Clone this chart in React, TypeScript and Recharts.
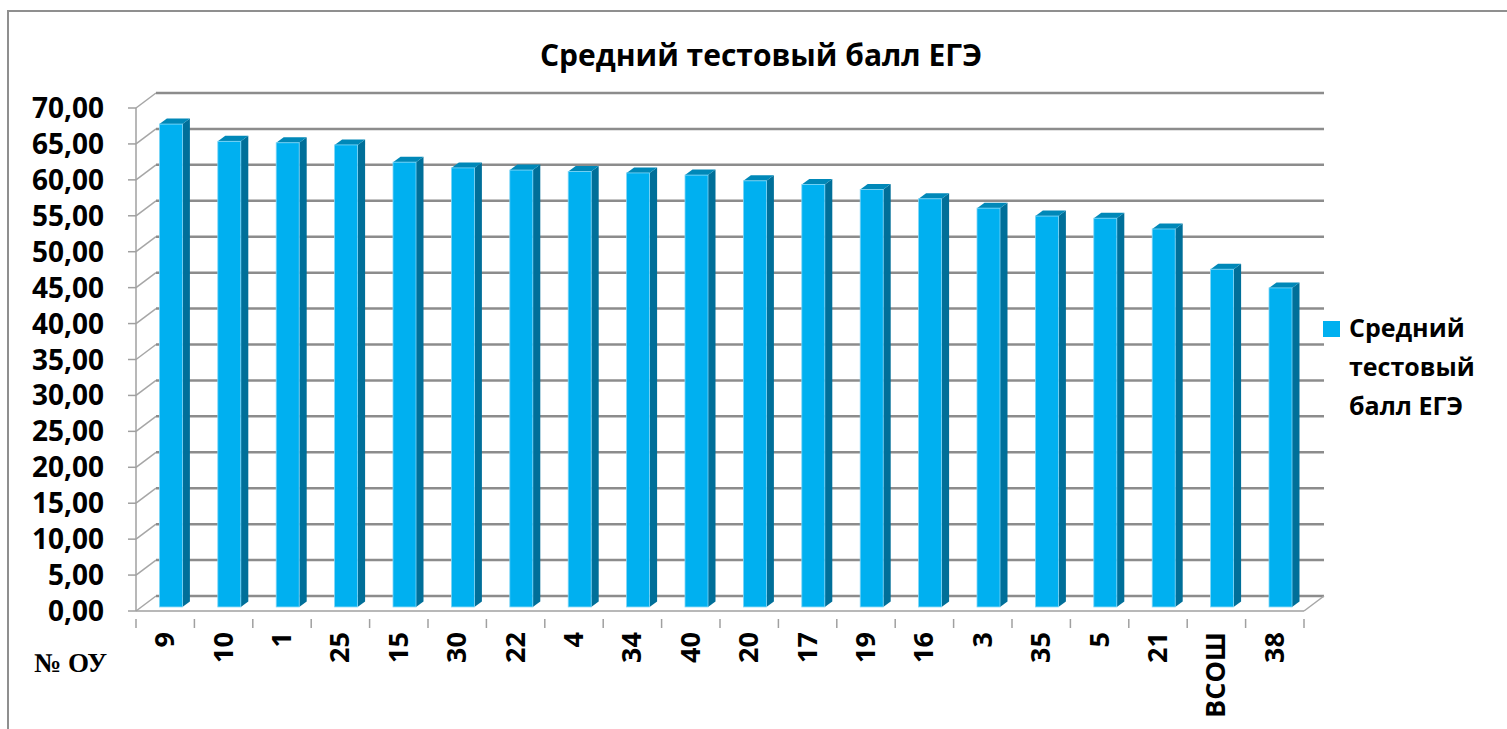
import { Bar, BarChart, CartesianGrid, XAxis, YAxis } from "recharts";

const categories = ["9", "10", "1", "25", "15", "30", "22", "4", "34", "40", "20", "17", "19", "16", "3", "35", "5", "21", "ВСОШ", "38"];
const scores = [67.2, 64.8, 64.6, 64.3, 61.9, 61.1, 60.8, 60.6, 60.4, 60.1, 59.3, 58.8, 58.1, 56.8, 55.5, 54.4, 54.1, 52.6, 47.0, 44.4];
const yTicks = [0, 5, 10, 15, 20, 25, 30, 35, 40, 45, 50, 55, 60, 65, 70];

const seriesName = "Средний тестовый балл ЕГЭ";

const data = categories.map((name, i) => ({ name, value: scores[i] }));

// 3d depth of the chart box
const DX = 20;
const DY = 15;
const PLOT_BOTTOM = 611;
const BAND = 1168 / categories.length;
const FONT = "'Open Sans', 'DejaVu Sans', sans-serif";

const fmt = (v: number) => v.toFixed(2).replace(".", ",");

const Bar3D = (props: any) => {
  const { x, y, width, height } = props;
  if (height == null || height <= 0) return null;
  const ox = DX * 0.27;
  const oy = DY * 0.27;
  const l = x + ox;
  const r = x + ox + width;
  const t = y - oy;
  const b = y + height - oy;
  const sx = 7.5;
  const sy = 5.5;
  return (
    <g>
      <polygon points={`${r},${t} ${r + sx},${t - sy} ${r + sx},${b - sy} ${r},${b}`} fill="#006f99" />
      <polygon points={`${l},${t} ${l + sx},${t - sy} ${r + sx},${t - sy} ${r},${t}`} fill="#0088b8" />
      <rect x={l} y={t} width={width} height={b - t} fill="#00b0f0" stroke="#7fd6f7" strokeWidth={0.8} />
    </g>
  );
};

const gridLine = (props: any) => {
  const { x1, y1, x2, index } = props;
  const isFloor = Math.abs(y1 - PLOT_BOTTOM) < 1.5;
  return (
    <g key={`grid-${index}-${y1}`}>
      <line x1={x1} y1={y1} x2={x1 + DX} y2={y1 - DY} stroke="#a6a6a6" strokeWidth={1.5} />
      <line x1={x1 + DX} y1={y1 - DY} x2={x2 + DX} y2={y1 - DY} stroke="#8c8c8c" strokeWidth={2.5} />
      {isFloor && <line x1={x2} y1={y1} x2={x2 + DX} y2={y1 - DY} stroke="#a6a6a6" strokeWidth={1.5} />}
    </g>
  );
};

const YTick = (props: any) => {
  const { y, payload } = props;
  return (
    <text x={104} y={y} dy={10} textAnchor="end" fontFamily={FONT} fontWeight={700} fontSize={28} fill="#000">
      {fmt(payload.value)}
    </text>
  );
};

const XTick = (props: any) => {
  const { x, y, payload, index } = props;
  const left = x - BAND / 2;
  const right = x + BAND / 2;
  return (
    <g>
      <line x1={left} y1={y} x2={left} y2={y + 9} stroke="#a0a0a0" strokeWidth={1.5} />
      {index === categories.length - 1 && (
        <line x1={right} y1={y} x2={right} y2={y + 9} stroke="#a0a0a0" strokeWidth={1.5} />
      )}
      <text
        x={x}
        y={632}
        dy={9}
        textAnchor="end"
        transform={`rotate(-90, ${x}, 632)`}
        fontFamily={FONT}
        fontWeight={700}
        fontSize={27}
        fill="#000"
      >
        {payload.value}
      </text>
    </g>
  );
};

const App = () => {
  return (
    <div style={{ position: "absolute", left: 0, top: 0, width: 1507, height: 729, background: "#fff", overflow: "hidden" }}>
      <div
        style={{
          position: "absolute",
          left: 7,
          top: 10,
          width: 1520,
          height: 740,
          borderLeft: "2px solid #8f8f8f",
          borderTop: "2px solid #8f8f8f",
        }}
      />
      <div
        style={{
          position: "absolute",
          left: 411,
          width: 700,
          top: 35,
          textAlign: "center",
          fontFamily: FONT,
          fontWeight: 700,
          fontSize: 30,
          lineHeight: "40px",
          color: "#000",
        }}
      >
        {seriesName}
      </div>
      <div style={{ position: "absolute", left: 0, top: 0 }}>
        <BarChart width={1507} height={729} data={data} margin={{ top: 108, right: 203, bottom: 0, left: 0 }}>
          <CartesianGrid vertical={false} horizontal={gridLine} />
          <YAxis
            type="number"
            domain={[0, 70]}
            ticks={yTicks}
            width={136}
            interval={0}
            tick={<YTick />}
            tickSize={8}
            tickLine={{ stroke: "#a0a0a0", strokeWidth: 1.5 }}
            axisLine={{ stroke: "#a0a0a0", strokeWidth: 1.5 }}
          />
          <XAxis
            dataKey="name"
            height={118}
            interval={0}
            tick={<XTick />}
            tickLine={false}
            axisLine={{ stroke: "#a0a0a0", strokeWidth: 1.5 }}
          />
          <Bar dataKey="value" name={seriesName} barSize={23} shape={<Bar3D />} isAnimationActive={false} />
        </BarChart>
      </div>
      <div style={{ position: "absolute", left: 1323, top: 321, width: 17, height: 16, background: "#00b0f0" }} />
      <div
        style={{
          position: "absolute",
          left: 1349,
          top: 308,
          width: 158,
          fontFamily: FONT,
          fontWeight: 700,
          fontSize: 25,
          lineHeight: "39px",
          color: "#000",
        }}
      >
        Средний
        <br />
        тестовый
        <br />
        балл ЕГЭ
      </div>
      <div
        style={{
          position: "absolute",
          left: 34,
          top: 648,
          fontFamily: "'Liberation Serif', 'Times New Roman', serif",
          fontWeight: 700,
          fontSize: 27,
          color: "#000",
        }}
      >
        № ОУ
      </div>
    </div>
  );
};

export default App;
